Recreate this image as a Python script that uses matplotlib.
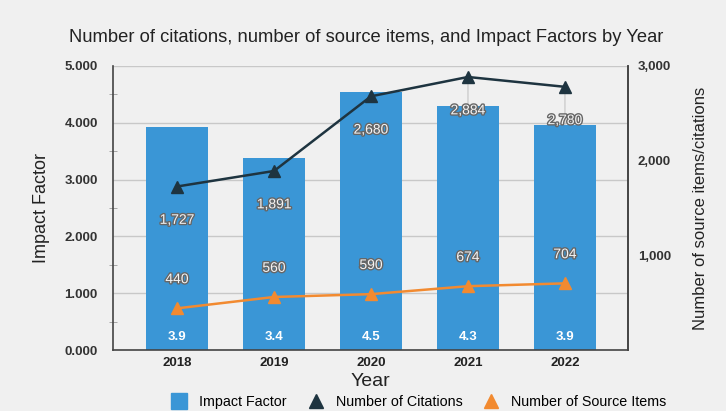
import numpy as np
import matplotlib.pyplot as plt
import matplotlib.patheffects as pe
from matplotlib.lines import Line2D
from matplotlib.ticker import FuncFormatter, MultipleLocator

plt.rcParams['font.family'] = ['Liberation Sans', 'DejaVu Sans']

# datos
years = ['2018', '2019', '2020', '2021', '2022']
impact = [3.93, 3.38, 4.54, 4.30, 3.96]
impact_lbl = ['3.9', '3.4', '4.5', '4.3', '3.9']
citations = [1727, 1891, 2680, 2884, 2780]
sources = [440, 560, 590, 674, 704]

bg = '#f0f0f0'
azul = '#3a96d6'
oscuro = '#1e3440'
naranja = '#f28a30'

fig = plt.figure(figsize=(7.26, 4.11), dpi=100, facecolor=bg)
ax = fig.add_axes([113/726, 61/411, 515/726, 284/411])
ax.set_facecolor(bg)
x = np.arange(len(years))

ax.bar(x, impact, width=0.64, color=azul, zorder=2)
ax.set_xlim(-0.66, 4.65)
ax.set_ylim(0, 5)
ax.set_yticks([0, 1, 2, 3, 4, 5])
ax.yaxis.set_major_formatter(FuncFormatter(lambda v, p: '%.3f' % v))
ax.yaxis.set_minor_locator(MultipleLocator(0.5))
ax.tick_params(axis='y', which='major', length=0, labelsize=9.5, colors='#333333', pad=11)
ax.tick_params(axis='y', which='minor', length=6, direction='inout', color='#999999')
ax.set_xticks(x)
ax.set_xticklabels(years, fontweight='bold')
ax.tick_params(axis='x', length=0, labelsize=9.5, colors='#222222', pad=5)
for t in ax.get_yticklabels():
    t.set_fontweight('bold')
ax.grid(axis='y', color='#c8c8c8', linewidth=1, zorder=0)
ax.set_axisbelow(True)
ax.spines['top'].set_visible(False)
for s in ['left', 'bottom', 'right']:
    ax.spines[s].set_color('#444444')
    ax.spines[s].set_linewidth(1.2)

ax.set_ylabel('Impact Factor', fontsize=13, color='#222222', labelpad=10)
ax.set_xlabel('Year', fontsize=14, color='#222222', labelpad=3)

for i, v in enumerate(impact):
    ax.annotate(impact_lbl[i], (x[i], 0), xytext=(0, 9.5), textcoords='offset points',
                ha='center', va='center', color='white', fontsize=9.5, fontweight='bold', zorder=3)

ax2 = ax.twinx()
ax2.set_ylim(0, 3000)
ax2.set_yticks([1000, 2000, 3000])
ax2.yaxis.set_major_formatter(FuncFormatter(lambda v, p: '{:,}'.format(int(v))))
ax2.tick_params(axis='y', length=0, labelsize=9.5, colors='#333333', pad=7)
for t in ax2.get_yticklabels():
    t.set_fontweight('bold')
for s in ['top', 'left', 'bottom']:
    ax2.spines[s].set_visible(False)
ax2.spines['right'].set_color('#444444')
ax2.spines['right'].set_linewidth(1.2)
ax2.set_ylabel('Number of source items/citations', fontsize=12, color='#222222', labelpad=16)

# lineas guia detras de las barras
for i, v in enumerate(citations):
    ax.annotate('', xy=(x[i], v), xycoords=ax2.transData, xytext=(0, -30),
                textcoords='offset points',
                arrowprops=dict(arrowstyle='-', color='#c4c4c4', lw=0.8, shrinkA=0, shrinkB=0),
                zorder=1)

ax2.plot(x, citations, color=oscuro, lw=1.8, marker='^', markersize=8, zorder=4)
ax2.plot(x, sources, color=naranja, lw=1.8, marker='^', markersize=8, zorder=4)

efecto = [pe.withStroke(linewidth=2, foreground='#666666')]
for i, v in enumerate(citations):
    ax2.annotate('{:,}'.format(v), (x[i], v), xytext=(0, -24), textcoords='offset points',
                 ha='center', va='center', color='#f4f4f4', fontsize=10,
                 path_effects=efecto, zorder=5)
for i, v in enumerate(sources):
    ax2.annotate('{:,}'.format(v), (x[i], v), xytext=(0, 21), textcoords='offset points',
                 ha='center', va='center', color='#f4f4f4', fontsize=10,
                 path_effects=efecto, zorder=5)

fig.text(366/726, 1 - 37/411,
         'Number of citations, number of source items, and Impact Factors by Year',
         ha='center', va='center', fontsize=13.2, color='#222222')

handles = [Line2D([], [], ls='none', marker='s', markersize=11, color=azul),
           Line2D([], [], ls='none', marker='^', markersize=10, color=oscuro),
           Line2D([], [], ls='none', marker='^', markersize=10, color=naranja)]
fig.legend(handles, ['Impact Factor', 'Number of Citations', 'Number of Source Items'],
           loc='center', bbox_to_anchor=(417/726, 1 - 402/411), ncol=3, frameon=False,
           fontsize=10.3, handletextpad=0.6, columnspacing=1.2, handlelength=1.6)

fig.savefig('out.png', dpi=100, facecolor=bg)
